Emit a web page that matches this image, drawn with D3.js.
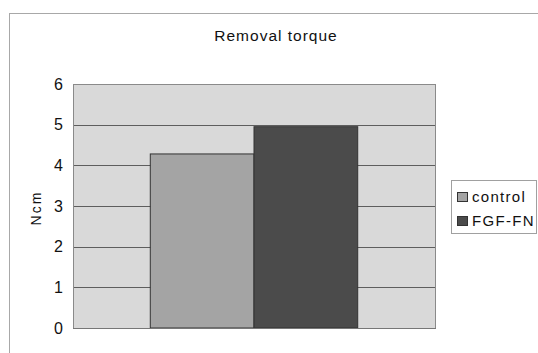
<!DOCTYPE html>
<html>
<head>
<meta charset="utf-8">
<script src="https://cdn.jsdelivr.net/npm/d3@7"></script>
<style>
  html, body { margin: 0; padding: 0; background: #fff; }
  svg { display: block; }
  text { font-family: "Liberation Sans", Arial, sans-serif; fill: #111; }
</style>
</head>
<body>
<svg id="chart" width="538" height="353"></svg>
<script>
const categories = ["Removal torque"];
const seriesNames = ["control", "FGF-FN"];
const seriesValues = [4.28, 4.95];
const yTicks = [0, 1, 2, 3, 4, 5, 6];
const seriesColors = ["#a4a4a4", "#4b4b4b"];

const svg = d3.select("#chart");
const W = 538, H = 353;
const plot = { left: 73, right: 436, top: 84, bottom: 328 };

// outer chart border
svg.append("rect")
  .attr("x", 9.5).attr("y", 13.5)
  .attr("width", W + 10).attr("height", H + 10)
  .attr("fill", "#fff").attr("stroke", "#a8a8a8").attr("stroke-width", 1);

// title
svg.append("text")
  .attr("x", 276).attr("y", 41)
  .attr("text-anchor", "middle")
  .style("font-size", "15.5px")
  .style("letter-spacing", "1px")
  .text("Removal torque");

const y = d3.scaleLinear().domain([0, 6]).range([plot.bottom, plot.top]);
const x0 = d3.scaleBand().domain(categories).range([plot.left, plot.right])
  .paddingInner(0).paddingOuter(0);
// Excel gap width 150%: group width = 2 bars, gap = 1.5 bar
const barW = (plot.right - plot.left) / (seriesNames.length + 1.5);
const x1 = d3.scaleBand().domain(seriesNames)
  .range([0, barW * seriesNames.length]);
const groupOffset = (x0.bandwidth() - barW * seriesNames.length) / 2;

// plot background
svg.append("rect")
  .attr("x", plot.left).attr("y", plot.top)
  .attr("width", plot.right - plot.left).attr("height", plot.bottom - plot.top)
  .attr("fill", "#d9d9d9");

// gridlines
svg.append("g")
  .selectAll("line")
  .data(yTicks.filter(t => t > 0 && t < 6))
  .join("line")
  .attr("x1", plot.left).attr("x2", plot.right)
  .attr("y1", d => Math.round(y(d)) + 0.5).attr("y2", d => Math.round(y(d)) + 0.5)
  .attr("stroke", "#5e5e5e").attr("stroke-width", 1);

// plot border
svg.append("rect")
  .attr("x", plot.left + 0.5).attr("y", plot.top + 0.5)
  .attr("width", plot.right - plot.left - 1).attr("height", plot.bottom - plot.top)
  .attr("fill", "none").attr("stroke", "#8a8a8a").attr("stroke-width", 1);

// bars
const rows = [];
categories.forEach(c => seriesNames.forEach((s, i) => rows.push({ c, s, v: seriesValues[i], i })));
svg.append("g")
  .selectAll("rect")
  .data(rows)
  .join("rect")
  .attr("x", d => x0(d.c) + groupOffset + x1(d.s) - 0.5)
  .attr("y", d => y(d.v))
  .attr("width", x1.bandwidth())
  .attr("height", d => y(0) - y(d.v))
  .attr("fill", d => seriesColors[d.i])
  .attr("stroke", "#333").attr("stroke-width", 1);

// baseline
svg.append("line")
  .attr("x1", plot.left).attr("x2", plot.right)
  .attr("y1", plot.bottom + 0.5).attr("y2", plot.bottom + 0.5)
  .attr("stroke", "#777");

// y axis labels
const yAxis = d3.axisLeft(y).tickValues(yTicks).tickSize(0).tickPadding(10).tickFormat(d3.format("d"));
const gy = svg.append("g").attr("transform", `translate(${plot.left},0)`).call(yAxis);
gy.select(".domain").remove();
gy.selectAll("text")
  .style("font-size", "16px")
  .style("font-family", "'Liberation Sans', Arial, sans-serif")
  .attr("fill", "#111");

// y axis title
svg.append("text")
  .attr("transform", "translate(41,208) rotate(-90)")
  .attr("text-anchor", "middle")
  .style("font-size", "14px")
  .style("letter-spacing", "2px")
  .text("Ncm");

// legend
const lg = svg.append("g");
lg.append("rect")
  .attr("x", 451.5).attr("y", 180.5).attr("width", 85).attr("height", 53)
  .attr("fill", "#fff").attr("stroke", "#a0a0a0");
const li = lg.selectAll("g.item").data(seriesNames).join("g")
  .attr("transform", (d, i) => `translate(457,${192 + i * 24})`);
li.append("rect")
  .attr("x", 0.5).attr("y", 0.5).attr("width", 10).attr("height", 9)
  .attr("fill", (d, i) => seriesColors[i]).attr("stroke", "#333");
li.append("text")
  .attr("x", 15).attr("y", 10)
  .style("font-size", "15px")
  .style("letter-spacing", "1.3px")
  .text(d => d);
</script>
</body>
</html>
